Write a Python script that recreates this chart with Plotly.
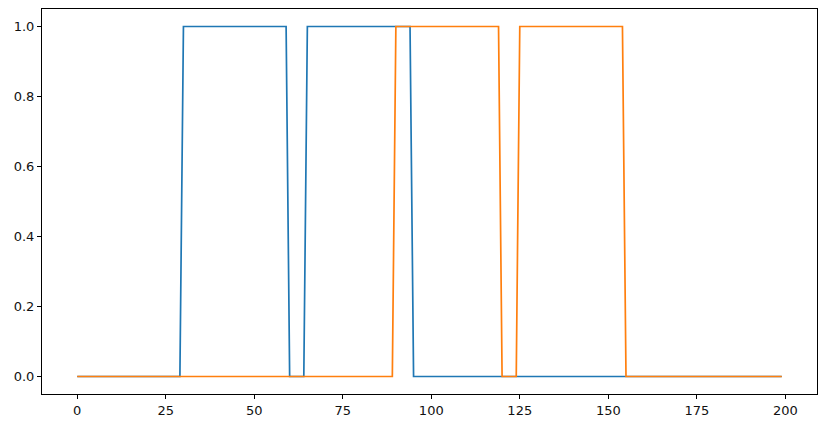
import plotly.graph_objects as go

# Sample index 0..199
n_samples = 200
x_values = list(range(n_samples))

# Pulse intervals (inclusive start, inclusive end) where each signal equals 1
blue_pulses = [(30, 59), (65, 94)]
orange_pulses = [(90, 119), (125, 154)]

x_ticks = [0, 25, 50, 75, 100, 125, 150, 175, 200]
y_ticks = [0.0, 0.2, 0.4, 0.6, 0.8, 1.0]
y_tick_labels = ["0.0", "0.2", "0.4", "0.6", "0.8", "1.0"]


def build_signal(pulses):
    vals = [0.0] * n_samples
    for s, e in pulses:
        for i in range(s, e + 1):
            vals[i] = 1.0
    return vals


blue_values = build_signal(blue_pulses)
orange_values = build_signal(orange_pulses)

fig = go.Figure()
fig.add_trace(go.Scatter(x=x_values, y=blue_values, mode="lines",
                         line=dict(color="#1f77b4", width=1.7), showlegend=False))
fig.add_trace(go.Scatter(x=x_values, y=orange_values, mode="lines",
                         line=dict(color="#ff7f0e", width=1.7), showlegend=False))

axis_common = dict(showgrid=False, zeroline=False, showline=True, linecolor="black",
                   linewidth=1, mirror=True, ticks="outside", ticklen=4,
                   tickwidth=1, tickcolor="black", automargin=False,
                   tickfont=dict(family="DejaVu Sans", size=13, color="#111111"))

# The page body adds an 8px offset, so the figure is sized to compensate
fig.update_layout(
    width=818, height=420,
    margin=dict(l=34, r=9, t=1, b=34, autoexpand=False),
    paper_bgcolor="white", plot_bgcolor="white",
    xaxis=dict(range=[-9.95, 208.95], tickvals=x_ticks,
               ticktext=[str(t) for t in x_ticks], **axis_common),
    yaxis=dict(range=[-0.05, 1.05], tickvals=y_ticks, ticktext=y_tick_labels,
               **axis_common),
)

fig.write_html("out.html")
